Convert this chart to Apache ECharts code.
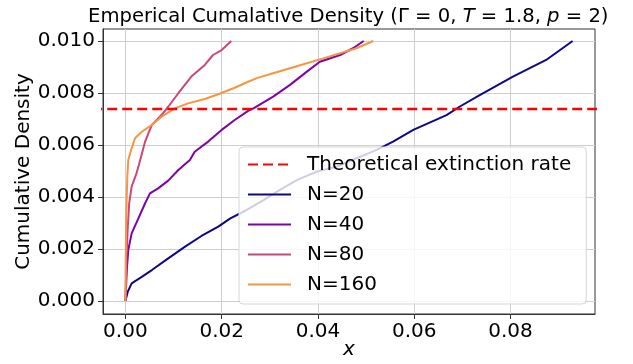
<!DOCTYPE html>
<html>
<head>
<meta charset="utf-8">
<script src="https://cdn.jsdelivr.net/npm/echarts@6/dist/echarts.min.js"></script>
<style>
  html, body { margin: 0; padding: 0; background: #fff; }
  #chart { width: 633px; height: 364px; }
</style>
</head>
<body>
<div id="chart"></div>
<script>
// values
const theoryRate = 0.00738;
const theoryX = [-0.01, 0.11];

const n20X = [0, 0.0005, 0.0013, 0.0034, 0.0055, 0.0089, 0.0124, 0.0158, 0.0193, 0.0218, 0.0252, 0.0287, 0.0321, 0.0356, 0.0397, 0.0439, 0.048, 0.0522, 0.0556, 0.0598, 0.0667, 0.0694, 0.0736, 0.0805, 0.0874, 0.0929];
const n20Y = [0, 0.00036, 0.00068, 0.00093, 0.00119, 0.00164, 0.00209, 0.0025, 0.00286, 0.00318, 0.0035, 0.00388, 0.00427, 0.00465, 0.00497, 0.00517, 0.00549, 0.00581, 0.00613, 0.00658, 0.00715, 0.00747, 0.00792, 0.00863, 0.00927, 0.0100];

const n40X = [0, 0.0003, 0.0006, 0.0013, 0.0027, 0.0041, 0.0051, 0.0068, 0.0089, 0.011, 0.0134, 0.0144, 0.0172, 0.02, 0.0227, 0.0255, 0.0266, 0.0307, 0.0342, 0.0377, 0.0404, 0.0446, 0.0473, 0.0495];
const n40Y = [0, 0.0012, 0.00196, 0.0026, 0.00318, 0.00376, 0.00414, 0.00433, 0.00463, 0.00504, 0.00542, 0.00574, 0.00613, 0.00658, 0.00696, 0.00731, 0.00741, 0.00786, 0.00831, 0.00882, 0.0092, 0.00946, 0.00972, 0.0100];

const n80X = [0, 0.00007, 0.0002, 0.0005, 0.0008, 0.0013, 0.0023, 0.0028, 0.0041, 0.0055, 0.0075, 0.0089, 0.011, 0.0137, 0.0165, 0.0182, 0.020, 0.022];
const n80Y = [0, 0.0003, 0.0016, 0.00286, 0.00377, 0.0044, 0.00491, 0.00523, 0.00613, 0.00677, 0.00715, 0.00747, 0.00799, 0.00863, 0.00908, 0.00946, 0.00965, 0.0100];

const n160X = [0, 0.00007, 0.0002, 0.0004, 0.0006, 0.0012, 0.002, 0.0034, 0.0055, 0.0075, 0.0103, 0.013, 0.0165, 0.0193, 0.0227, 0.0255, 0.0273, 0.0307, 0.0342, 0.0377, 0.0411, 0.0446, 0.048, 0.0515];
const n160Y = [0, 0.00158, 0.0035, 0.00478, 0.00542, 0.00581, 0.00626, 0.00651, 0.00677, 0.00709, 0.00741, 0.0076, 0.00777, 0.00795, 0.0082, 0.00843, 0.00857, 0.00876, 0.00895, 0.00914, 0.00933, 0.00953, 0.00972, 0.0100];

const xTicks = [0, 0.02, 0.04, 0.06, 0.08];
const yTicks = [0, 0.002, 0.004, 0.006, 0.008, 0.010];

const font = "DejaVu Sans";
const zip = (xs, ys) => xs.map((x, i) => [x, ys[i]]);

const curve = (name, xs, ys, color) => ({
  name,
  type: "line",
  data: zip(xs, ys),
  showSymbol: false,
  z: 3,
  lineStyle: { color, width: 2 },
  itemStyle: { color },
});

const chart = echarts.init(document.getElementById("chart"));
chart.setOption({
  animation: false,
  backgroundColor: "#fff",
  textStyle: { fontFamily: font },
  title: {
    text: "{a|Emperical Cumalative Density (Γ = 0, }{i|T}{a| = 1.8, }{i|p}{a| = 2)}",
    left: 83,
    top: 2,
    textStyle: {
      rich: {
        a: { fontFamily: font, fontSize: 19.6, fontWeight: "normal", color: "#000" },
        i: { fontFamily: font, fontSize: 19.6, fontWeight: "normal", color: "#000", fontStyle: "italic" },
      },
    },
  },
  grid: {
    left: 103,
    right: 38,
    top: 29,
    bottom: 50,
    outerBoundsMode: "none",
    show: true,
    borderColor: "#333",
    borderWidth: 1,
  },
  legend: {
    orient: "vertical",
    left: 239,
    top: 147,
    itemWidth: 43,
    itemHeight: 14,
    itemGap: 7,
    padding: [6, 15, 8, 8],
    backgroundColor: "rgba(255,255,255,0.8)",
    borderColor: "#d6d6d6",
    borderWidth: 1,
    borderRadius: 4,
    itemStyle: { opacity: 0 },
    textStyle: { fontFamily: font, fontSize: 20, color: "#000", lineHeight: 23, padding: [0, 0, 0, 11] },
    data: [
      { name: "Theoretical extinction rate", lineStyle: { type: [10, 5] } },
      "N=20",
      "N=40",
      "N=80",
      "N=160",
    ],
  },
  xAxis: {
    type: "value",
    min: -0.00465,
    max: 0.09755,
    name: "x",
    nameLocation: "middle",
    nameGap: 26,
    nameMoveOverlap: false,
    nameTextStyle: { fontFamily: font, fontSize: 20, fontStyle: "italic", color: "#000" },
    axisLine: { show: true, onZero: false, lineStyle: { color: "#333" } },
    axisTick: { show: true, length: 5, customValues: xTicks, lineStyle: { color: "#333" } },
    axisLabel: {
      customValues: xTicks,
      margin: 8,
      fontFamily: font,
      fontSize: 20,
      color: "#000",
      formatter: (v) => v.toFixed(2),
    },
    splitLine: { show: true, lineStyle: { color: "#cfcfcf", width: 1 } },
  },
  yAxis: {
    type: "value",
    min: -0.0005,
    max: 0.01046,
    name: "Cumulative Density",
    nameLocation: "middle",
    nameGap: 69,
    nameMoveOverlap: false,
    nameTextStyle: { fontFamily: font, fontSize: 20, color: "#000" },
    axisLine: { show: true, onZero: false, lineStyle: { color: "#333" } },
    axisTick: { show: true, length: 5, customValues: yTicks, lineStyle: { color: "#333" } },
    axisLabel: {
      customValues: yTicks,
      margin: 8,
      fontFamily: font,
      fontSize: 20,
      color: "#000",
      formatter: (v) => v.toFixed(3),
    },
    splitLine: { show: true, lineStyle: { color: "#cfcfcf", width: 1 } },
  },
  series: [
    {
      name: "Theoretical extinction rate",
      type: "line",
      data: theoryX.map((x) => [x, theoryRate]),
      showSymbol: false,
      z: 4,
      lineStyle: { color: "#ff0000", width: 2.5, type: [10, 5] },
      itemStyle: { color: "#ff0000" },
    },
    curve("N=20", n20X, n20Y, "#0d0887"),
    curve("N=40", n40X, n40Y, "#7e03a8"),
    curve("N=80", n80X, n80Y, "#cc4778"),
    curve("N=160", n160X, n160Y, "#f89540"),
  ],
});
</script>
</body>
</html>
